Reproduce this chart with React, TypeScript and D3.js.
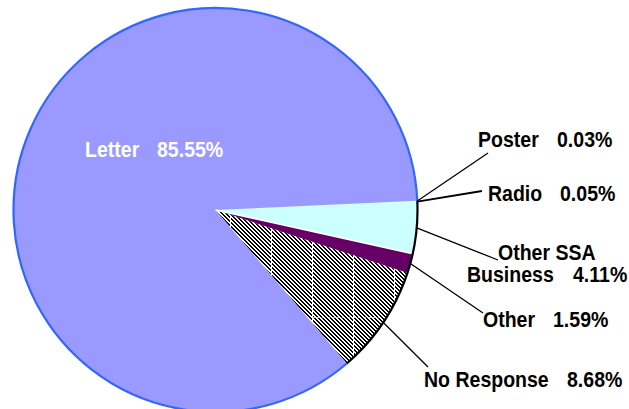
import React from "react";
import * as d3 from "d3";

const categories = ["Poster", "Radio", "Other SSA Business", "Other", "No Response", "Letter"];
const values = [0.03, 0.05, 4.11, 1.59, 8.68, 85.55];
const valueLabels = ["0.03%", "0.05%", "4.11%", "1.59%", "8.68%", "85.55%"];

// layout (not data)
const W = 629, H = 409;
const CX = 215.5, CY = 210, R = 202;
const START_DEG = 87.4;
const fills = ["#CCFFFF", "#CCFFFF", "#CCFFFF", "#660066", "url(#hatch)", "#9999FF"];
const labelLayout = [
  { lines: [{ t: "Poster", x: 478, y: 147 }], vx: 557, vy: 147, lx: 488, ly: 153 },
  { lines: [{ t: "Radio", x: 488, y: 201 }], vx: 560, vy: 201, lx: 482, ly: 191 },
  { lines: [{ t: "Other SSA", x: 498, y: 260 }, { t: "Business", x: 467, y: 282 }], vx: 573, vy: 282, lx: 498, ly: 260 },
  { lines: [{ t: "Other", x: 483, y: 327 }], vx: 553, vy: 327, lx: 483, ly: 313 },
  { lines: [{ t: "No Response", x: 424, y: 387 }], vx: 567, vy: 387, lx: 428, ly: 367 },
  { lines: [{ t: "Letter", x: 85, y: 157 }], vx: 157, vy: 157, lx: null, ly: null },
];

const FONT = "'Liberation Sans', Arial, Helvetica, sans-serif";
const HATCH_ROWS = [0, 1, 2, 3];

function Label({ x, y, text, color }: { x: number; y: number; text: string; color: string }) {
  return (
    <text
      transform={`translate(${x},${y}) scale(0.93,1.05)`}
      fontFamily={FONT}
      fontWeight="bold"
      fontSize={21}
      fill={color}
    >
      {text}
    </text>
  );
}

export default function App() {
  const start = (START_DEG * Math.PI) / 180;
  const pie = d3
    .pie<number>()
    .sort(null)
    .value((d) => d)
    .startAngle(start)
    .endAngle(start + 2 * Math.PI);
  const arcs = pie(values);
  const arcGen = d3.arc<d3.PieArcDatum<number>>().innerRadius(0).outerRadius(R);

  const outerArc = (a0: number, a1: number) => {
    const p = d3.path();
    p.moveTo(CX + R * Math.sin(a0), CY - R * Math.cos(a0));
    p.arc(CX, CY, R, a0 - Math.PI / 2, a1 - Math.PI / 2, false);
    return p.toString();
  };

  const letter = arcs[5];
  const others = arcs.slice(0, 5);
  const othersStart = others[0].startAngle;
  const othersEnd = others[others.length - 1].endAngle;
  const sepA = arcs[3].startAngle;

  return (
    <svg width={W} height={H} style={{ position: "absolute", left: 0, top: 0, background: "#fff" }}>
      <defs>
        <pattern id="hatch" patternUnits="userSpaceOnUse" x={-CX} y={-CY} width={4} height={4}>
          <rect width={4} height={4} fill="#fff" />
          {HATCH_ROWS.map((r) => (
            <g key={r}>
              <rect x={r % 4} y={r} width={1} height={1} fill="#000" shapeRendering="crispEdges" />
              <rect x={(r + 1) % 4} y={r} width={1} height={1} fill="#000" shapeRendering="crispEdges" />
            </g>
          ))}
        </pattern>
        <pattern id="grid" patternUnits="userSpaceOnUse" x={271 - CX} y={317 - CY} width={41} height={128}>
          <line x1={0.5} y1={0} x2={0.5} y2={128} stroke="#fff" strokeWidth={1} />
          <line x1={0} y1={0.5} x2={41} y2={0.5} stroke="#fff" strokeWidth={1} strokeDasharray="3 2" opacity={0.7} />
        </pattern>
      </defs>
      <g transform={`translate(${CX},${CY})`}>
        {arcs.map((a, i) => (
          <path key={categories[i]} d={arcGen(a) || ""} fill={fills[i]} />
        ))}
        <path d={arcGen(arcs[4]) || ""} fill="url(#grid)" />
        <line
          x1={0}
          y1={0}
          x2={R * Math.sin(sepA)}
          y2={-R * Math.cos(sepA)}
          stroke="#fff"
          strokeWidth={1.5}
        />
      </g>
      <path d={outerArc(letter.startAngle, letter.endAngle)} fill="none" stroke="#3366FF" strokeWidth={2.2} />
      <path d={outerArc(othersStart, othersEnd)} fill="none" stroke="#000" strokeWidth={2.2} />
      {arcs.map((a, i) => {
        const L = labelLayout[i];
        if (L.lx === null) return null;
        const m = (a.startAngle + a.endAngle) / 2;
        return (
          <line
            key={"l" + i}
            x1={CX + R * Math.sin(m)}
            y1={CY - R * Math.cos(m)}
            x2={L.lx}
            y2={L.ly as number}
            stroke="#000"
            strokeWidth={i === 1 ? 1.8 : 1.3}
          />
        );
      })}
      {categories.map((c, i) => {
        const L = labelLayout[i];
        const color = i === 5 ? "#fff" : "#000";
        return (
          <g key={"t" + c}>
            {L.lines.map((ln) => (
              <Label key={ln.t} x={ln.x} y={ln.y} text={ln.t} color={color} />
            ))}
            <Label x={L.vx} y={L.vy} text={valueLabels[i]} color={color} />
          </g>
        );
      })}
    </svg>
  );
}
